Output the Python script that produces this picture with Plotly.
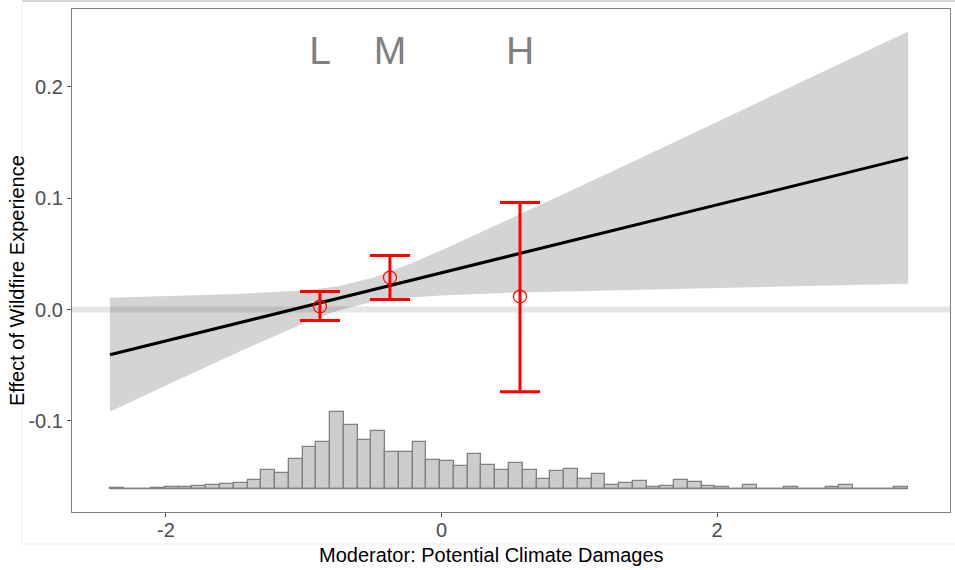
import plotly.graph_objects as go

# ---- data ----
# fitted marginal-effect line and its confidence ribbon
ribbon_x = [-2.407, -2.0, -1.5, -1.0, -0.75, -0.5, -0.25, 0.0, 0.5, 1.0, 1.5, 2.0, 2.5, 3.0, 3.387]
ribbon_upper = [0.0107, 0.0120, 0.0139, 0.0172, 0.0209, 0.0285, 0.0400, 0.0533, 0.0815, 0.1103, 0.1394, 0.1686, 0.1978, 0.2271, 0.2498]
ribbon_lower = [-0.0917, -0.0682, -0.0396, -0.0123, -0.0007, 0.0070, 0.0107, 0.0127, 0.0151, 0.0168, 0.0182, 0.0196, 0.0209, 0.0222, 0.0232]
line_x = [-2.407, 3.387]
line_y = [-0.0405, 0.1365]

# binned estimates (L, M, H)
bin_labels = ["L", "M", "H"]
bin_x = [-0.882, -0.374, 0.570]
bin_est = [0.0027, 0.0288, 0.0117]
bin_upper = [0.0162, 0.0485, 0.0961]
bin_lower = [-0.0099, 0.0090, -0.0737]
label_y = 0.2298

# histogram of the moderator (relative counts)
hist_counts = [0.3, 0, 0, 0.3, 1.7, 2, 2.7, 3.7, 5, 5.7, 8.3, 19, 16, 30, 42, 47, 76.7, 64,
               49, 58, 37, 36.7, 47, 29, 28, 22.7, 35, 24, 19, 25.7, 18.3, 10, 18, 19.7,
               9.3, 14.7, 3.7, 6, 7.7, 2, 2.7, 9, 7, 3, 2, 0, 4, 0, 0, 2, 0, 0, 1.7, 3.7,
               0, 0, 0, 1.7]
hist_base = -0.1608
hist_max_height = 0.0689

x_ticks = [-2, 0, 2]
x_ticklabels = ["-2", "0", "2"]
y_ticks = [-0.1, 0.0, 0.1, 0.2]
y_ticklabels = ["-0.1", "0.0", "0.1", "0.2"]
x_range = [-2.682, 3.691]
y_range = [-0.1818, 0.270]

# ---- build figure ----
fig = go.Figure()

# ribbon
fig.add_trace(go.Scatter(
    x=ribbon_x + ribbon_x[::-1], y=ribbon_upper + ribbon_lower[::-1],
    fill="toself", fillcolor="rgba(0,0,0,0.17)", line=dict(width=0),
    mode="lines", hoverinfo="skip", showlegend=False))

# fitted line
fig.add_trace(go.Scatter(x=line_x, y=line_y, mode="lines",
                         line=dict(color="black", width=3), showlegend=False))

# histogram
xmin, xmax = line_x[0], line_x[1]
n = len(hist_counts)
bw = (xmax - xmin) / n
centers = [xmin + bw * (i + 0.5) for i in range(n)]
scale = hist_max_height / max(hist_counts)
heights = [c * scale for c in hist_counts]
fig.add_trace(go.Scatter(x=[xmin, xmax], y=[hist_base, hist_base], mode="lines",
                         line=dict(color="#808080", width=1.5), showlegend=False,
                         hoverinfo="skip"))
fig.add_trace(go.Bar(x=centers, y=heights, base=hist_base, width=bw,
                     marker=dict(color="#cccccc", line=dict(color="#808080", width=1.3)),
                     showlegend=False))

# binned estimates with error bars
fig.add_trace(go.Scatter(
    x=bin_x, y=bin_est, mode="markers",
    marker=dict(symbol="circle-open", size=13, color="red", line=dict(width=1.2)),
    error_y=dict(type="data", symmetric=False,
                 array=[u - e for u, e in zip(bin_upper, bin_est)],
                 arrayminus=[e - l for e, l in zip(bin_est, bin_lower)],
                 color="red", thickness=3, width=20),
    showlegend=False))

# L / M / H labels
fig.add_trace(go.Scatter(x=bin_x, y=[label_y] * 3, mode="text", text=bin_labels,
                         textfont=dict(size=39, color="#808080", family="Liberation Sans, Arial"),
                         textposition="middle center", showlegend=False, hoverinfo="skip"))

L, R, T, B = 72, 5, 9, 58
W, H = 955, 570
pw, ph = W - L - R, H - T - B

def px2paper_x(px):
    return (px - L) / pw

def px2paper_y(py):
    return (H - B - py) / ph

fig.update_layout(
    width=W, height=H, margin=dict(l=L, r=R, t=T, b=B),
    paper_bgcolor="white", plot_bgcolor="white", bargap=0,
    font=dict(family="Liberation Sans, Arial, sans-serif"),
    xaxis=dict(range=x_range, tickvals=x_ticks, ticktext=x_ticklabels,
               showgrid=False, zeroline=False, ticks="outside", ticklen=4,
               ticklabelstandoff=-4,
               tickcolor="#4d4d4d", tickfont=dict(size=20, color="#4d4d4d"),
               showline=True, linecolor="#7f7f7f", linewidth=1.2, mirror=True),
    yaxis=dict(range=y_range, tickvals=y_ticks, ticktext=y_ticklabels,
               showgrid=False, zeroline=False, ticks="outside", ticklen=4,
               tickcolor="#4d4d4d", tickfont=dict(size=20, color="#4d4d4d"),
               showline=True, linecolor="#7f7f7f", linewidth=1.2, mirror=True),
    shapes=[
        dict(type="line", xref="paper", yref="y", x0=0, x1=1, y0=0, y1=0,
             line=dict(color="#e6e6e6", width=6), layer="below"),
        dict(type="line", xref="paper", yref="paper", x0=px2paper_x(22), x1=px2paper_x(956),
             y0=px2paper_y(1), y1=px2paper_y(1), line=dict(color="#c8c8c8", width=1.5)),
        dict(type="line", xref="paper", yref="paper", x0=px2paper_x(22), x1=px2paper_x(22),
             y0=px2paper_y(1), y1=px2paper_y(544), line=dict(color="#f0f0f0", width=1)),
        dict(type="line", xref="paper", yref="paper", x0=px2paper_x(22), x1=px2paper_x(956),
             y0=px2paper_y(544), y1=px2paper_y(544), line=dict(color="#eeeeee", width=1)),
    ],
    annotations=[
        dict(text="Effect of Wildfire Experience", xref="paper", yref="paper",
             x=px2paper_x(17), y=px2paper_y(281), textangle=-90, showarrow=False,
             xanchor="center", yanchor="middle", font=dict(size=20, color="black")),
        dict(text="Moderator: Potential Climate Damages", xref="paper", yref="paper",
             x=px2paper_x(491), y=px2paper_y(555), showarrow=False,
             xanchor="center", yanchor="middle", font=dict(size=20, color="black")),
    ],
)

fig.write_html("out.html")
